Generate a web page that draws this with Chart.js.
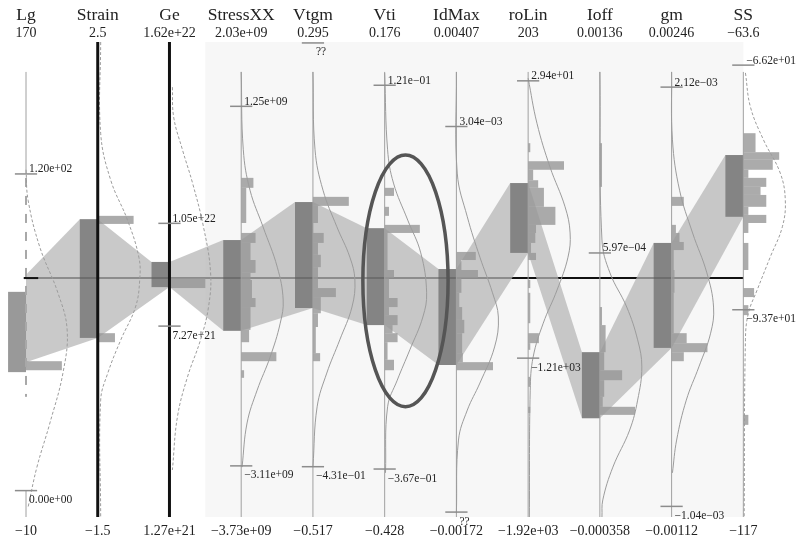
<!DOCTYPE html>
<html><head><meta charset="utf-8">
<script src="https://cdn.jsdelivr.net/npm/chart.js@4.4.1/dist/chart.umd.min.js"></script>
<style>html,body{margin:0;padding:0;background:#fff}#wrap{width:800px;height:543px;position:relative}</style>
</head><body><div id="wrap"><canvas id="c"></canvas></div>
<script>
// ---------- DATA ----------
const axisNames = ["Lg","Strain","Ge","StressXX","Vtgm","Vti","IdMax","roLin","Ioff","gm","SS"];
const axisMaxValues = [170, 2.5, 1.62e22, 2.03e9, 0.295, 0.176, 0.00407, 203, 0.00136, 0.00246, -63.6];
const axisMinValues = [-10, -1.5, 1.27e21, -3.73e9, -0.517, -0.428, -0.00172, -1920, -0.000358, -0.00112, -117];
const axisMaxLabels = ["170","2.5","1.62e+22","2.03e+09","0.295","0.176","0.00407","203","0.00136","0.00246","\u221263.6"];
const axisMinLabels = ["\u221210","\u22121.5","1.27e+21","\u22123.73e+09","\u22120.517","\u22120.428","\u22120.00172","\u22121.92e+03","\u22120.000358","\u22120.00112","\u2212117"];

// marked values on each axis (real units) and their labels
const markValues = [[120, 0], [], [1.05e22, 7.27e21], [1.25e9, -3.11e9], [0.2934, -0.431], [0.121, -0.367],
                    [0.00304, -0.00166], [29.4, -1210], [0.000597], [0.00212, -0.00104], [-66.2, -93.7]];
const markLabels = [["1.20e+02","0.00e+00"], [], ["1.05e+22","7.27e+21"], ["1.25e+09","\u22123.11e+09"],
                    ["??","\u22124.31e\u221201"], ["1.21e\u221201","\u22123.67e\u221201"], ["3.04e\u221203","??"],
                    ["2.94e+01","\u22121.21e+03"], ["5.97e\u221204"], ["2.12e\u221203","\u22121.04e\u221203"],
                    ["\u22126.62e+01","\u22129.37e+01"]];

// cluster boxes (fraction of axis range, 0 = axis min, 1 = axis max)
const boxTop    = [0.474, 0.627, 0.537, 0.583, 0.663, 0.608, 0.522, 0.703, 0.347, 0.577, 0.762];
const boxBottom = [0.305, 0.377, 0.484, 0.392, 0.440, 0.404, 0.320, 0.556, 0.208, 0.356, 0.632];
// band connecting the clusters
const bandTop    = [0.510, 0.627, 0.537, 0.583, 0.663, 0.608, 0.522, 0.703, 0.347, 0.577, 0.762];
const bandBottom = [0.326, 0.377, 0.484, 0.392, 0.440, 0.404, 0.320, 0.556, 0.208, 0.356, 0.632];

// histograms: [binTop, binBottom, relative frequency]
const histLg = [[0.328,0.309,0.50]];
const histStrain = [[0.634,0.617,0.50],[0.387,0.368,0.24]];
const histGe = [[0.503,0.482,0.50]];
const histStressXX = [[0.714,0.693,0.17],[0.693,0.619,0.07],[0.598,0.577,0.20],[0.577,0.541,0.13],[0.541,0.514,0.20],
  [0.514,0.499,0.13],[0.499,0.461,0.15],[0.461,0.442,0.20],[0.442,0.394,0.13],[0.394,0.368,0.11],[0.347,0.328,0.49],[0.309,0.293,0.04]];
const histVtgm = [[0.674,0.655,0.50],[0.655,0.619,0.07],[0.598,0.577,0.15],[0.577,0.552,0.07],[0.552,0.526,0.11],
  [0.526,0.482,0.07],[0.482,0.463,0.32],[0.463,0.429,0.11],[0.429,0.400,0.07],[0.400,0.345,0.04],[0.345,0.328,0.10]];
const histVti = [[0.693,0.676,0.13],[0.653,0.634,0.06],[0.615,0.598,0.49],[0.598,0.520,0.04],[0.520,0.503,0.13],
  [0.503,0.461,0.06],[0.461,0.442,0.18],[0.442,0.425,0.06],[0.425,0.404,0.18],[0.404,0.387,0.11],[0.387,0.368,0.18],
  [0.368,0.331,0.04],[0.331,0.309,0.13]];
const histIdMax = [[0.558,0.541,0.27],[0.541,0.520,0.07],[0.520,0.503,0.30],[0.503,0.472,0.07],[0.472,0.442,0.04],
  [0.442,0.415,0.08],[0.415,0.387,0.11],[0.387,0.345,0.08],[0.345,0.326,0.09],[0.326,0.309,0.51]];
const histRoLin = [[0.787,0.768,0.03],[0.749,0.731,0.50],[0.731,0.709,0.07],[0.709,0.693,0.14],[0.693,0.653,0.22],
  [0.653,0.615,0.38],[0.615,0.598,0.11],[0.598,0.577,0.10],[0.577,0.556,0.04],[0.556,0.541,0.11],[0.499,0.482,0.03],
  [0.472,0.408,0.03],[0.387,0.366,0.15],[0.366,0.352,0.03],[0.295,0.274,0.03],[0.232,0.219,0.03]];
const histIoff = [[0.787,0.695,0.03],[0.442,0.404,0.03],[0.404,0.347,0.08],[0.347,0.309,0.06],[0.309,0.288,0.31],
  [0.288,0.253,0.06],[0.253,0.232,0.04],[0.232,0.215,0.49]];
const histGm = [[0.674,0.655,0.17],[0.615,0.598,0.06],[0.598,0.579,0.11],[0.579,0.562,0.17],[0.562,0.520,0.03],
  [0.520,0.472,0.04],[0.472,0.387,0.03],[0.387,0.366,0.21],[0.366,0.347,0.50],[0.347,0.328,0.17]];
const histSS = [[0.808,0.768,0.17],[0.768,0.752,0.50],[0.752,0.731,0.41],[0.731,0.714,0.07],[0.714,0.695,0.32],
  [0.695,0.678,0.24],[0.678,0.653,0.32],[0.653,0.636,0.07],[0.636,0.619,0.32],[0.619,0.598,0.07],[0.577,0.520,0.07],
  [0.482,0.463,0.15],[0.446,0.425,0.07],[0.215,0.194,0.07]];
const histograms = [histLg, histStrain, histGe, histStressXX, histVtgm, histVti, histIdMax, histRoLin, histIoff, histGm, histSS];

// density curves: [position on axis, relative density]
const densLg = [[0.731,0],[0.667,0.05],[0.568,0.33],[0.472,0.76],[0.394,0.98],[0.303,0.88],[0.198,0.57],[0.105,0.26],[0.021,0.05]];
const densStrain = [[1.0,0.07],[0.808,0.07],[0.709,0.31],[0.625,0.71],[0.547,0.98],[0.499,1.0],[0.442,0.90],[0.373,0.55],[0.303,0.24],[0.246,0.07],[0.0,0.07]];
const densGe = [[0.905,0.07],[0.842,0.10],[0.773,0.31],[0.703,0.55],[0.611,0.81],[0.514,0.98],[0.442,0.93],[0.373,0.74],[0.295,0.43],[0.211,0.19],[0.099,0.07]];
const densStressXX = [[0.937,0],[0.773,0.05],[0.688,0.21],[0.611,0.52],[0.526,0.86],[0.457,1.0],[0.408,0.93],[0.337,0.69],[0.267,0.38],[0.198,0.14],[0.105,0.02]];
const densVtgm = [[0.937,0],[0.773,0.05],[0.688,0.24],[0.611,0.57],[0.547,0.88],[0.499,1.0],[0.442,0.93],[0.373,0.64],[0.303,0.33],[0.232,0.10],[0.105,0]];
const densVti = [[0.935,0],[0.773,0.07],[0.703,0.21],[0.625,0.55],[0.556,0.86],[0.472,1.0],[0.421,0.91],[0.352,0.60],[0.288,0.30],[0.232,0.07],[0.093,0.02]];
const densIdMax = [[0.937,0],[0.724,0.02],[0.632,0.26],[0.547,0.56],[0.472,0.86],[0.421,1.0],[0.358,0.91],[0.282,0.56],[0.225,0.26],[0.162,0.05],[0.008,0]];
const densRoLin = [[0.924,0],[0.829,0.21],[0.737,0.52],[0.653,0.88],[0.598,1.0],[0.547,0.95],[0.478,0.69],[0.408,0.36],[0.337,0.12],[0.267,0.05],[0.0,0.03]];
const densIoff = [[0.937,0],[0.583,0.05],[0.514,0.24],[0.442,0.64],[0.373,0.90],[0.316,1.0],[0.246,0.90],[0.183,0.71],[0.105,0.31],[0.036,0.07],[0.0,0.05]];
const densGm = [[0.937,0],[0.794,0.02],[0.688,0.19],[0.598,0.50],[0.514,0.84],[0.442,1.0],[0.387,0.93],[0.316,0.65],[0.246,0.35],[0.162,0.12],[0.093,0.02]];
const densSS = [[0.935,0.05],[0.863,0.17],[0.794,0.48],[0.724,0.88],[0.667,1.0],[0.611,0.93],[0.547,0.64],[0.478,0.33],[0.429,0.12],[0.373,0.05],[0.0,0.02]];
const densityCurves = [densLg, densStrain, densGe, densStressXX, densVtgm, densVti, densIdMax, densRoLin, densIoff, densGm, densSS];

const referenceLevel = 0.503;                 // horizontal reference line
const highlightEllipse = [5.29, 0.497, 0.594, 0.265]; // centre x (axis index), centre y, radius x, radius y
const boldAxes = [1, 2];
const shadedFrom = 2.5;

// ---------- STYLE CONSTANTS ----------
const X_MIN = -0.3625, X_MAX = 10.79;
const BOX_W = 0.25, DENS_W = 0.585, TICK_HALF = 0.155;
const SERIF = '"Liberation Serif", "DejaVu Serif", serif';
const dashedCurves = [0, 1, 2, 10];

const datasets = densityCurves.map((pts, i) => ({
  type: 'line', showLine: true,
  data: pts.map(p => ({ x: i + p[1] * DENS_W, y: p[0] })),
  borderColor: '#9c9c9c', borderWidth: 1, pointRadius: 0, tension: 0.4, fill: false,
  borderDash: dashedCurves.includes(i) ? [3, 2] : []
}));

const pcPlugin = {
  id: 'pc',
  beforeDatasetsDraw(chart) {
    const ctx = chart.ctx, xs = chart.scales.x, ys = chart.scales.y;
    const X = v => xs.getPixelForValue(v), Y = v => ys.getPixelForValue(v);
    ctx.save();
    // shaded panel
    ctx.fillStyle = '#f7f7f7';
    ctx.fillRect(X(shadedFrom), Y(1), X(10) - X(shadedFrom), Y(0) - Y(1));
    // reference line
    ctx.strokeStyle = '#111'; ctx.lineWidth = 2;
    ctx.beginPath(); ctx.moveTo(X(-0.03), Y(referenceLevel)); ctx.lineTo(X(10), Y(referenceLevel)); ctx.stroke();
    // bands
    ctx.fillStyle = 'rgba(182,182,182,0.745)';
    for (let i = 0; i < axisNames.length - 1; i++) {
      const ax0 = X(i), ax1 = X(i + 1), lft = X(i + 1 - BOX_W);
      const A = [ax0, Y(bandTop[i])], B = [ax0, Y(bandBottom[i])];
      const C = [lft, Y(bandTop[i + 1])], D = [ax1, Y(bandTop[i + 1])];
      const E = [ax1, Y(bandBottom[i + 1])], F = [lft, Y(bandBottom[i + 1])];
      const lineY = B[1] + (E[1] - B[1]) * (F[0] - B[0]) / (E[0] - B[0]);
      const pts = [A, C, D, E];
      if (F[1] > lineY) pts.push(F);
      pts.push(B);
      ctx.beginPath();
      pts.forEach((p, k) => k ? ctx.lineTo(p[0], p[1]) : ctx.moveTo(p[0], p[1]));
      ctx.closePath(); ctx.fill();
    }
    // boxes
    ctx.fillStyle = 'rgba(90,90,90,0.62)';
    for (let i = 0; i < axisNames.length; i++) {
      const x0 = X(i - BOX_W), x1 = X(i);
      ctx.fillRect(x0, Y(boxTop[i]), x1 - x0, Y(boxBottom[i]) - Y(boxTop[i]));
    }
    // histograms
    ctx.fillStyle = 'rgba(150,150,150,0.8)';
    histograms.forEach((bins, i) => {
      bins.forEach(b => {
        const x0 = X(i), x1 = X(i + b[2]);
        ctx.fillRect(x0, Y(b[0]), x1 - x0, Y(b[1]) - Y(b[0]));
      });
    });
    // thin axis lines
    ctx.strokeStyle = '#a0a0a0'; ctx.lineWidth = 1;
    for (let i = 3; i < axisNames.length; i++) {
      ctx.beginPath(); ctx.moveTo(X(i), Y(0.937)); ctx.lineTo(X(i), Y(0)); ctx.stroke();
    }
    // Lg axis: solid top, dashed middle, solid bottom
    const lgTick = (markValues[0][0] - axisMinValues[0]) / (axisMaxValues[0] - axisMinValues[0]);
    const lgLow = (markValues[0][1] - axisMinValues[0]) / (axisMaxValues[0] - axisMinValues[0]);
    ctx.beginPath(); ctx.moveTo(X(0), Y(0.937)); ctx.lineTo(X(0), Y(lgTick)); ctx.stroke();
    ctx.beginPath(); ctx.moveTo(X(0), Y(lgLow)); ctx.lineTo(X(0), Y(0)); ctx.stroke();
    ctx.strokeStyle = '#a8a8a8'; ctx.lineWidth = 2; ctx.setLineDash([9, 9]);
    ctx.beginPath(); ctx.moveTo(X(0), Y(lgTick) + 4); ctx.lineTo(X(0), Y(0.253)); ctx.stroke();
    ctx.setLineDash([]);
    ctx.restore();
  },
  afterDatasetsDraw(chart) {
    const ctx = chart.ctx, xs = chart.scales.x, ys = chart.scales.y;
    const X = v => xs.getPixelForValue(v), Y = v => ys.getPixelForValue(v);
    ctx.save();
    // bold axes
    ctx.strokeStyle = '#111'; ctx.lineWidth = 3;
    boldAxes.forEach(i => { ctx.beginPath(); ctx.moveTo(X(i), Y(1)); ctx.lineTo(X(i), Y(0)); ctx.stroke(); });
    // black tick at Lg on the reference line
    ctx.lineWidth = 2;
    ctx.beginPath(); ctx.moveTo(X(-0.03), Y(referenceLevel)); ctx.lineTo(X(0.17), Y(referenceLevel)); ctx.stroke();
    // marks and labels
    ctx.font = '11.5px ' + SERIF; ctx.fillStyle = '#222'; ctx.textAlign = 'left'; ctx.textBaseline = 'alphabetic';
    markValues.forEach((vals, i) => {
      const range = axisMaxValues[i] - axisMinValues[i];
      vals.forEach((v, k) => {
        const n = (v - axisMinValues[i]) / range;
        const y = Y(n);
        ctx.strokeStyle = '#8c8c8c'; ctx.lineWidth = 1.5;
        ctx.beginPath(); ctx.moveTo(X(i - TICK_HALF), y); ctx.lineTo(X(i + TICK_HALF), y); ctx.stroke();
        const isUpper = vals.length === 1 || v === Math.max(...vals);
        const above = isUpper && n < 0.97;
        ctx.fillText(markLabels[i][k], X(i) + 3, above ? y - 1.5 : y + 12.5);
      });
    });
    // highlight ellipse
    const [ecx, ecy, erx, ery] = highlightEllipse;
    ctx.strokeStyle = '#555'; ctx.lineWidth = 3.5;
    ctx.beginPath();
    ctx.ellipse(X(ecx), Y(ecy), X(ecx + erx) - X(ecx), Y(ecy - ery) - Y(ecy), 0, 0, Math.PI * 2);
    ctx.stroke();
    // header and footer
    ctx.fillStyle = '#222'; ctx.textAlign = 'center';
    axisNames.forEach((name, i) => {
      ctx.font = '17.5px ' + SERIF; ctx.fillText(name, X(i), 20);
      ctx.font = '14px ' + SERIF; ctx.fillText(axisMaxLabels[i], X(i), 36.5);
      ctx.fillText(axisMinLabels[i], X(i), 535);
    });
    ctx.restore();
  }
};

new Chart(document.getElementById('c'), {
  type: 'scatter',
  data: { datasets },
  options: {
    responsive: true, maintainAspectRatio: false, animation: false, events: [],
    layout: { padding: { top: 42, bottom: 26, left: 0, right: 0 } },
    plugins: { legend: { display: false }, tooltip: { enabled: false } },
    scales: {
      x: { type: 'linear', min: X_MIN, max: X_MAX, display: false },
      y: { type: 'linear', min: 0, max: 1, display: false }
    }
  },
  plugins: [pcPlugin]
});
</script></body></html>
